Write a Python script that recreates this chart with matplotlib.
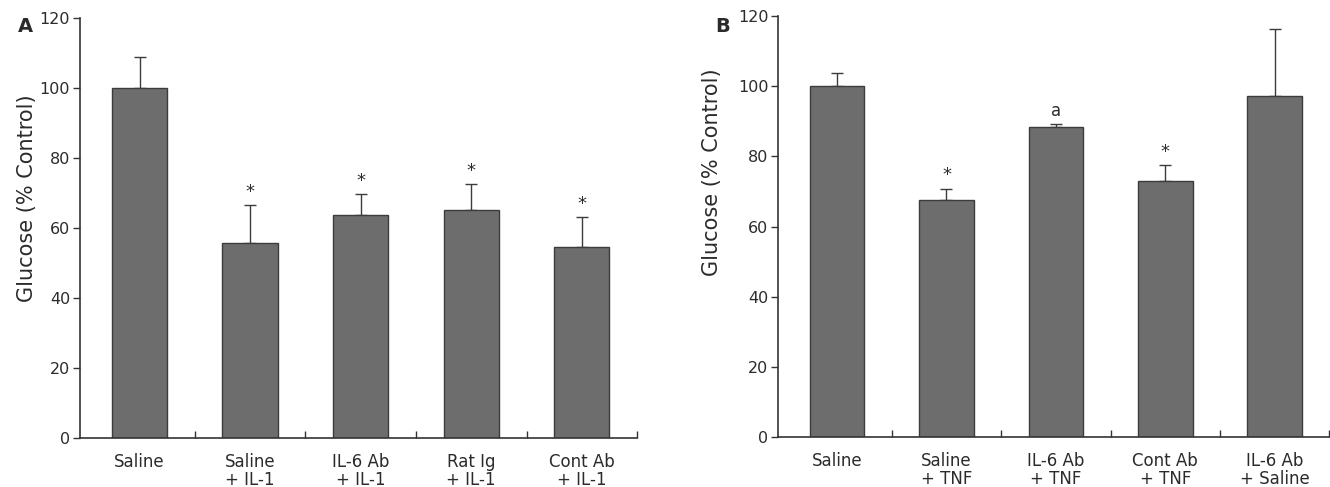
"""
Glucose (% control) bar charts, panels A (IL-1) and B (TNF)
"""
import matplotlib
matplotlib.use("Agg")
import matplotlib.pyplot as plt
import numpy as np

# Panel A data
labels_a = ["Saline", "Saline\n+ IL-1", "IL-6 Ab\n+ IL-1", "Rat Ig\n+ IL-1", "Cont Ab\n+ IL-1"]
means_a = [100, 55.7, 63.8, 65.1, 54.7]
errs_a = [8.8, 10.9, 5.9, 7.5, 8.5]
marks_a = ["", "*", "*", "*", "*"]

# Panel B data
labels_b = ["Saline", "Saline\n+ TNF", "IL-6 Ab\n+ TNF", "Cont Ab\n+ TNF", "IL-6 Ab\n+ Saline"]
means_b = [100, 67.6, 88.3, 73.0, 97.2]
errs_b = [3.8, 3.2, 1.0, 4.4, 19.1]
marks_b = ["", "*", "a", "*", ""]

yticks = [0, 20, 40, 60, 80, 100, 120]

plt.rcParams['font.family'] = ['DejaVu Sans']

BAR_COLOR = "#6d6d6d"
EDGE_COLOR = "#3c3c3c"
AXIS_COLOR = "#333333"
TEXT_COLOR = "#2b2b2b"


def draw_panel(ax, labels, means, errs, marks):
    x = np.arange(len(labels))
    ax.bar(x, means, width=0.5, color=BAR_COLOR, edgecolor=EDGE_COLOR, linewidth=1.0, zorder=2)
    ax.errorbar(x, means, yerr=[np.zeros(len(errs)), errs], fmt="none",
                ecolor=EDGE_COLOR, elinewidth=1.0, capsize=4, capthick=1.0, zorder=1)

    # significance marks above the error bars
    for xi, m, e, mk in zip(x, means, errs, marks):
        if mk:
            fs = 13 if mk == "*" else 12
            ax.annotate(mk, (xi, m + e), xytext=(0, 3), textcoords="offset points",
                        ha="center", va="bottom", fontsize=fs, color=TEXT_COLOR)

    ax.set_xlim(-0.54, len(labels) - 0.5)
    ax.set_ylim(0, 120)
    ax.set_yticks(yticks)
    ax.set_xticks(x)
    ax.set_xticklabels(labels, fontsize=12, color=TEXT_COLOR, linespacing=0.95)
    ax.tick_params(axis="x", length=0, pad=11)
    ax.set_xticks(x + 0.5, minor=True)
    ax.tick_params(axis="x", which="minor", direction="in", length=5, width=1.0, color=AXIS_COLOR)
    ax.tick_params(axis="y", direction="out", length=5, width=1.0, color=AXIS_COLOR,
                   labelsize=11.5, labelcolor=TEXT_COLOR, pad=2)

    for side in ["top", "right"]:
        ax.spines[side].set_visible(False)
    for side in ["left", "bottom"]:
        ax.spines[side].set_color(AXIS_COLOR)
        ax.spines[side].set_linewidth(1.2)


fig = plt.figure(figsize=(13.3, 4.87), dpi=100)

ax_a = fig.add_axes([0.060, 0.1006, 0.419, 0.8624])
draw_panel(ax_a, labels_a, means_a, errs_a, marks_a)
ax_a.set_ylabel("Glucose (% Control)", fontsize=15, color=TEXT_COLOR)
ax_a.yaxis.set_label_coords(-0.077, 0.57)

ax_b = fig.add_axes([0.585, 0.1027, 0.4145, 0.8643])
draw_panel(ax_b, labels_b, means_b, errs_b, marks_b)
ax_b.set_ylabel("Glucose (% Control)", fontsize=15, color=TEXT_COLOR)
ax_b.yaxis.set_label_coords(-0.102, 0.63)

fig.text(0.019, 0.945, "A", fontsize=14, fontweight="bold", color=TEXT_COLOR, ha="center", va="center")
fig.text(0.543, 0.945, "B", fontsize=14, fontweight="bold", color=TEXT_COLOR, ha="center", va="center")

fig.savefig("out.png", dpi=100)
